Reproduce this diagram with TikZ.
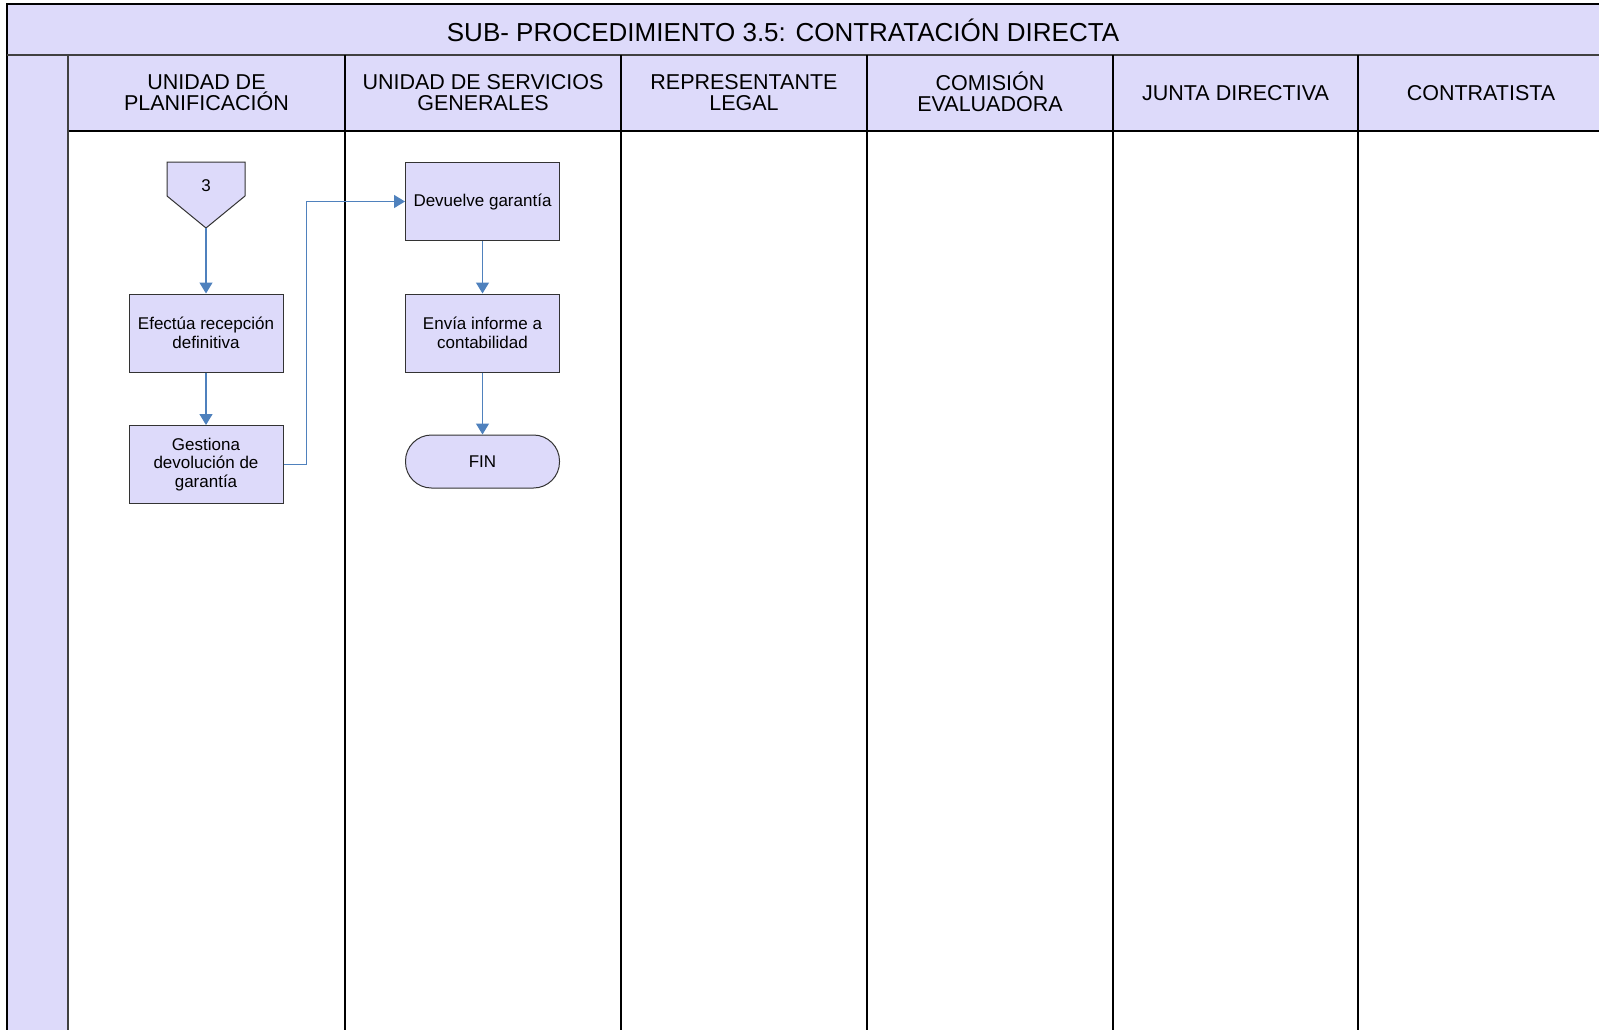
\documentclass[tikz,border=0pt]{standalone}
\usepackage{fontspec}
\setmainfont{Liberation Sans}
\usetikzlibrary{arrows.meta}
\definecolor{lila}{RGB}{221,218,250}
\definecolor{azul}{RGB}{79,129,189}
\tikzset{
  paso/.style={draw=black!80, fill=lila, line width=1pt, minimum width=154pt, minimum height=78pt, align=center, font=\fontsize{17}{18.5}\selectfont, inner sep=2pt},
  fin/.style={paso, rounded corners=26pt, minimum height=53pt},
  flecha/.style={draw=azul, line width=1.3pt, -{Triangle[length=11pt,width=13pt]}},
  carril/.style={font=\fontsize{21.5}{21}\selectfont, align=center},
}
\begin{document}
\begin{tikzpicture}[x=1pt,y=-1pt]
	\useasboundingbox (0,0) rectangle (1599,1029);
	\clip (0,0) rectangle (1599,1029);

	% cabecera y carriles
	\filldraw[fill=lila, draw=black, line width=1.2pt] (7,4) rectangle (1620,55);
	\node[font=\fontsize{26}{26}\selectfont] (titulo) at (783,30) {SUB- PROCEDIMIENTO 3.5: CONTRATACIÓN DIRECTA};
	\filldraw[fill=lila, draw=black, line width=1.2pt] (7,55) rectangle (68,1040);
	\filldraw[fill=lila, draw=black, line width=1.2pt] (68,55) rectangle (1620,131);
	\draw[line width=2.5pt, draw=black!75] (7,55) -- (1620,55);
	\draw[line width=2pt, draw=black!75] (68,55) -- (68,1040);
	\foreach \x in {345,621,867,1113,1358} \draw[line width=1.2pt] (\x,55) -- (\x,1040);

	\node[carril] (planif) at (206.5,93) {UNIDAD DE\\PLANIFICACIÓN};
	\node[carril] (servgen) at (483,93) {UNIDAD DE SERVICIOS\\GENERALES};
	\node[carril] (replegal) at (744,93) {REPRESENTANTE\\LEGAL};
	\node[carril] (comision) at (990,91.5) {COMISIÓN\\EVALUADORA};
	\node[carril] (junta) at (1235.5,93) {JUNTA DIRECTIVA};
	\node[carril] (contrat) at (1481,93) {CONTRATISTA};

	% conector de pagina
	\filldraw[fill=lila, draw=black!80, line width=1pt] (167,162) -- (245,162) -- (245,196) -- (206,228) -- (167,196) -- cycle;
	\node[font=\fontsize{17}{18.5}\selectfont] (ref3) at (206,186) {3};
	\coordinate (ref3tip) at (206,228);

	% pasos
	\node[paso] (efectua) at (206,333) {Efectúa recepción\\definitiva};
	\node[paso] (gestiona) at (206,464.5) {Gestiona\\devolución de\\garantía};
	\node[paso] (devuelve) at (482.5,201.5) {Devuelve garantía};
	\node[paso] (envia) at (482.5,333) {Envía informe a\\contabilidad};
	\node[fin] (fin) at (482.5,461.5) {FIN};

	\draw[flecha] (ref3tip) -- (efectua);
	\draw[flecha] (efectua) -- (gestiona);
	\draw[flecha] (gestiona.east) -- ++(23,0) |- (devuelve.west);
	\draw[flecha] (devuelve) -- (envia);
	\draw[flecha] (envia) -- (fin);

\end{tikzpicture}
\end{document}
